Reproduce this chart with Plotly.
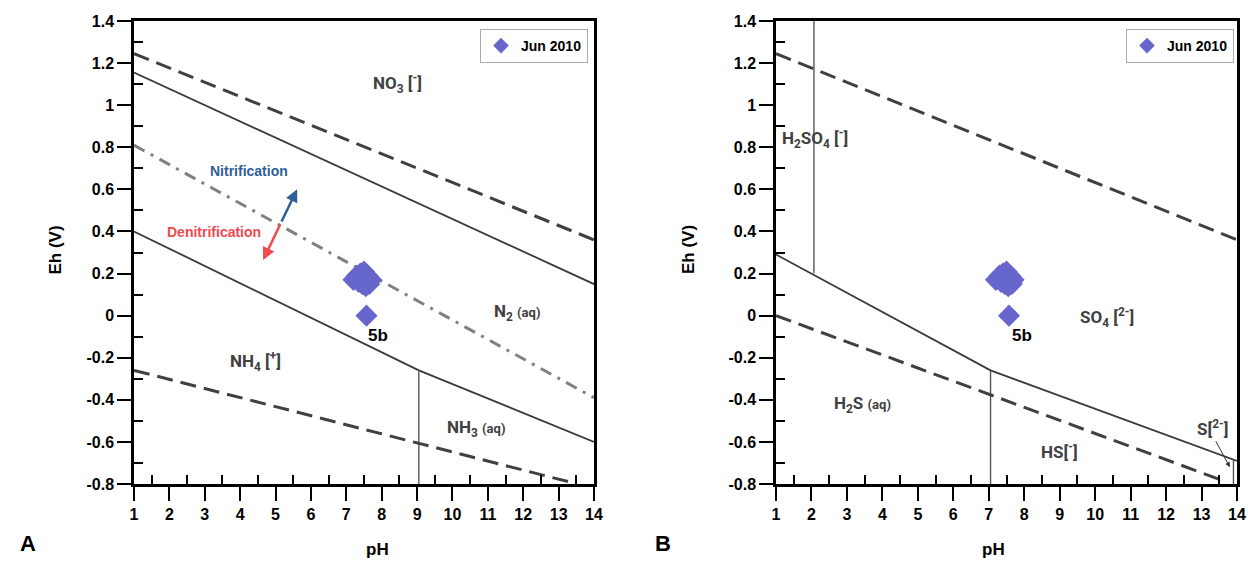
import plotly.graph_objects as go

# ---------------- data ----------------
sample_ph = [7.20, 7.30, 7.40, 7.50, 7.60, 7.70, 7.45, 7.55, 7.35, 7.65, 7.50, 7.60]
sample_eh = [0.17, 0.19, 0.20, 0.21, 0.19, 0.17, 0.15, 0.14, 0.16, 0.15, 0.18, 0.16]
point_5b_ph = [7.57]
point_5b_eh = [0.0]

# Panel A (nitrogen)
a_water_top_ph = [1, 14]
a_water_top_eh = [1.245, 0.36]
a_no3_n2_ph = [1, 14]
a_no3_n2_eh = [1.155, 0.15]
a_nitrif_ph = [1, 14]
a_nitrif_eh = [0.81, -0.39]
a_n2_nh_ph = [1, 9.05, 14]
a_n2_nh_eh = [0.40, -0.26, -0.60]
a_nh4_nh3_ph = [9.05, 9.05]
a_nh4_nh3_eh = [-0.26, -0.80]
a_water_bot_ph = [1, 13.3]
a_water_bot_eh = [-0.26, -0.79]

# Panel B (sulfur)
b_water_top_ph = [1, 14]
b_water_top_eh = [1.245, 0.36]
b_h2so4_ph = [2.07, 2.07]
b_h2so4_eh = [1.40, 0.20]
b_main_ph = [1, 7.05, 14]
b_main_eh = [0.29, -0.26, -0.69]
b_h2s_hs_ph = [7.05, 7.05]
b_h2s_hs_eh = [-0.26, -0.80]
b_s2_ph = [13.9, 13.9]
b_s2_eh = [-0.683, -0.80]
b_water_bot_ph = [1, 13.7]
b_water_bot_eh = [0.0, -0.79]

x_ticks = list(range(1, 15))
y_tickvals = [1.4, 1.2, 1.0, 0.8, 0.6, 0.4, 0.2, 0.0, -0.2, -0.4, -0.6, -0.8]
y_ticktext = ["1.4", "1.2", "1", "0.8", "0.6", "0.4", "0.2", "0", "-0.2", "-0.4", "-0.6", "-0.8"]
y_minor = [1.3, 1.1, 0.9, 0.7, 0.5, 0.3, 0.1, -0.1, -0.3, -0.5, -0.7]

legend_name = "Jun 2010"

# ---------------- styles ----------------
FONT = "Liberation Sans, Arial, sans-serif"
LBL = "Roboto, Liberation Sans, sans-serif"
DARK = "#3a3a3a"
GRAY = "#404040"
MARK = "#6666cc"

fig = go.Figure()


def line(xs, ys, xa, ya, color=DARK, width=1.8, dash="solid"):
    fig.add_trace(go.Scatter(x=xs, y=ys, mode="lines", xaxis=xa, yaxis=ya,
                             line=dict(color=color, width=width, dash=dash),
                             showlegend=False, hoverinfo="skip"))


DASH = "16px,8px"
DASHDOT = "12px,7px,3px,7px"

# Panel A lines
line(a_water_top_ph, a_water_top_eh, "x", "y", GRAY, 3, DASH)
line(a_no3_n2_ph, a_no3_n2_eh, "x", "y")
line(a_nitrif_ph, a_nitrif_eh, "x", "y", "#808080", 3, DASHDOT)
line(a_n2_nh_ph, a_n2_nh_eh, "x", "y")
line(a_nh4_nh3_ph, a_nh4_nh3_eh, "x", "y", "#555555", 1.4)
line(a_water_bot_ph, a_water_bot_eh, "x", "y", GRAY, 3, DASH)

# Panel B lines
line(b_water_top_ph, b_water_top_eh, "x2", "y2", GRAY, 3, DASH)
line(b_h2so4_ph, b_h2so4_eh, "x2", "y2", "#555555", 1.4)
line(b_main_ph, b_main_eh, "x2", "y2")
line(b_h2s_hs_ph, b_h2s_hs_eh, "x2", "y2", "#555555", 1.4)
line(b_s2_ph, b_s2_eh, "x2", "y2", "#555555", 1.4)
line(b_water_bot_ph, b_water_bot_eh, "x2", "y2", GRAY, 3, DASH)

# Samples
for xa, ya, lg in [("x", "y", "legend"), ("x2", "y2", "legend2")]:
    fig.add_trace(go.Scatter(x=sample_ph + point_5b_ph, y=sample_eh + point_5b_eh,
                             mode="markers", xaxis=xa, yaxis=ya, name=legend_name,
                             legend=lg,
                             marker=dict(symbol="diamond", size=17, color=MARK,
                                         line=dict(width=0))))

axis_common = dict(range=[1, 14], showgrid=False, zeroline=False, showline=True,
                   automargin=False,
                   linecolor="black", linewidth=2.5, mirror=True,
                   ticks="outside", ticklen=14, tickwidth=2, tickcolor="black",
                   tickmode="array", tickvals=x_ticks,
                   tickfont=dict(family=FONT, size=16, color="black", weight="bold"),
                   minor=dict(ticks="inside", ticklen=9, tickwidth=2, tickcolor="black",
                              tickmode="linear", tick0=1.5, dtick=1))
yaxis_common = dict(range=[-0.8, 1.4], showgrid=False, zeroline=False, showline=True,
                    automargin=False,
                    linecolor="black", linewidth=2.5, mirror=True,
                    ticks="outside", ticklen=14, tickwidth=2, tickcolor="black",
                    tickmode="array", tickvals=y_tickvals, ticktext=y_ticktext,
                    tickfont=dict(family=FONT, size=16, color="black", weight="bold"),
                    minor=dict(ticks="inside", ticklen=9, tickwidth=2, tickcolor="black",
                               tickmode="array", tickvals=y_minor))

xA = [134 / 1248, 594 / 1248]
xB = [776 / 1248, 1237 / 1248]
yD = [86 / 570, 549 / 570]

legend_common = dict(y=1 - 29 / 570, xanchor="right", yanchor="top",
                     bgcolor="white", bordercolor="#aaaaaa", borderwidth=1,
                     itemsizing="constant", tracegroupgap=0,
                     font=dict(family=FONT, size=14, color="black", weight="bold"))

fig.update_layout(
    width=1248, height=570,
    margin=dict(l=0, r=0, t=0, b=0),
    paper_bgcolor="white", plot_bgcolor="white",
    xaxis=dict(axis_common, domain=xA, anchor="y"),
    yaxis=dict(yaxis_common, domain=yD, anchor="x"),
    xaxis2=dict(axis_common, domain=xB, anchor="y2"),
    yaxis2=dict(yaxis_common, domain=yD, anchor="x2"),
    legend=dict(legend_common, x=588 / 1248),
    legend2=dict(legend_common, x=1234 / 1248),
)

ann = []


def txt(x, y, t, xr, yr, size=17, color=GRAY, family=LBL, xanchor="center", weight="bold"):
    ann.append(dict(x=x, y=y, xref=xr, yref=yr, text=t, showarrow=False,
                    xanchor=xanchor, yanchor="middle",
                    font=dict(family=family, size=size, color=color, weight=weight)))


SM = "<span style='font-size:13px'>(aq)</span>"
# Panel A labels
txt(8.46, 1.105, "NO<sub>3</sub> [<sup>-</sup>]", "x", "y")
txt(11.82, 0.013, "N<sub>2</sub> " + SM, "x", "y")
txt(4.42, -0.22, "NH<sub>4</sub> [<sup>+</sup>]", "x", "y")
txt(10.67, -0.534, "NH<sub>3</sub> " + SM, "x", "y")
txt(4.25, 0.687, "Nitrification", "x", "y", 14, "#2f5f98", FONT)
txt(3.26, 0.397, "Denitrification", "x", "y", 14, "#f04a50", FONT)
txt(7.9, -0.092, "5b", "x", "y", 17, "black", FONT)
# Panel B labels
txt(1.12, 0.84, "H<sub>2</sub>SO<sub>4</sub> [<sup>-</sup>]", "x2", "y2", xanchor="left")
txt(10.33, -0.01, "SO<sub>4</sub> [<sup>2-</sup>]", "x2", "y2")
txt(3.45, -0.42, "H<sub>2</sub>S " + SM, "x2", "y2")
txt(9.0, -0.643, "HS[<sup>-</sup>]", "x2", "y2")
txt(13.32, -0.534, "S[<sup>2-</sup>]", "x2", "y2")
txt(7.94, -0.092, "5b", "x2", "y2", 17, "black", FONT)

# arrows
ann.append(dict(x=5.61, y=0.60, ax=5.15, ay=0.44, xref="x", yref="y", axref="x", ayref="y",
                showarrow=True, arrowhead=2, arrowsize=1, arrowwidth=2.5,
                arrowcolor="#2f5f98", text=""))
ann.append(dict(x=4.65, y=0.264, ax=5.15, ay=0.44, xref="x", yref="y", axref="x", ayref="y",
                showarrow=True, arrowhead=2, arrowsize=1, arrowwidth=2.5,
                arrowcolor="#f04a50", text=""))
ann.append(dict(x=13.8, y=-0.72, ax=13.38, ay=-0.59, xref="x2", yref="y2", axref="x2", ayref="y2",
                showarrow=True, arrowhead=2, arrowsize=1, arrowwidth=1,
                arrowcolor="#333333", text=""))

# axis titles and panel letters
for px in [43, 688]:
    ann.append(dict(x=px / 1248, y=1 - 250 / 570, xref="paper", yref="paper", text="Eh (V)",
                    showarrow=False, textangle=-90,
                    font=dict(family=FONT, size=17, color="black", weight="bold")))
for px in [364, 1007]:
    ann.append(dict(x=px / 1248, y=1 - 561 / 570, xref="paper", yref="paper", text="pH",
                    showarrow=False,
                    font=dict(family=FONT, size=17, color="black", weight="bold")))
for px, lab in [(18, "A"), (663, "B")]:
    ann.append(dict(x=px / 1248, y=1 - 558 / 570, xref="paper", yref="paper", text=lab,
                    showarrow=False,
                    font=dict(family=FONT, size=22, color="black", weight="bold")))

fig.update_layout(annotations=ann)
fig.write_html("out.html", config={"displayModeBar": False},
               post_script="document.body.style.margin='0px';document.body.style.overflow='hidden';")
